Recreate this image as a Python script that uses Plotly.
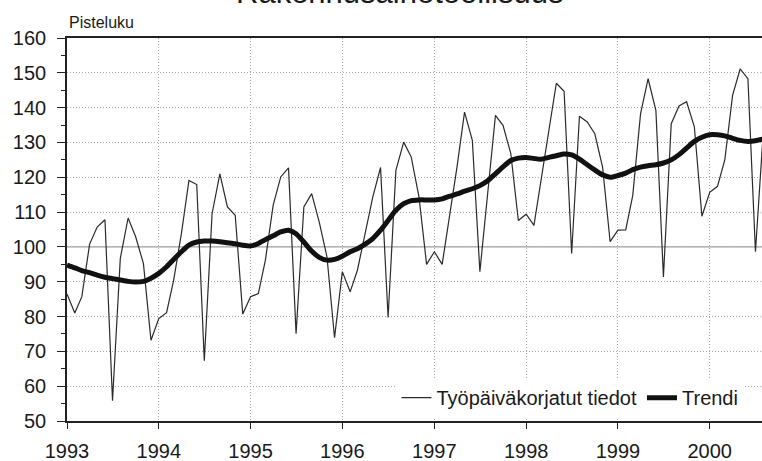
import plotly.graph_objects as go
import pandas as pd

# Kuukausittaiset pisteluvut 1/1993 - 8/2000
kuukaudet = pd.date_range("1993-01-01", periods=92, freq="MS")

tyopaivakorjatut = [
    86.5, 81.0, 85.7, 100.8, 105.7, 107.8, 55.8, 96.7, 108.3, 102.9, 95.2, 73.2,      # 1993
    79.4, 81.1, 90.4, 103.8, 119.1, 117.9, 67.3, 109.6, 121.0, 111.5, 109.1, 80.7,    # 1994
    85.7, 86.6, 96.2, 112.0, 120.1, 122.7, 75.1, 111.5, 115.3, 107.2, 97.1, 73.9,     # 1995
    92.9, 87.1, 93.3, 103.8, 114.3, 122.8, 79.7, 122.0, 130.1, 125.8, 114.3, 95.0,    # 1996
    98.6, 95.0, 107.6, 122.9, 138.7, 130.6, 92.9, 115.0, 137.8, 134.9, 126.8, 107.6,  # 1997
    109.4, 106.2, 119.1, 132.5, 147.0, 144.7, 98.1, 137.5, 135.9, 132.5, 122.9, 101.5,  # 1998
    104.8, 104.9, 114.8, 138.2, 148.3, 139.2, 91.4, 135.4, 140.5, 141.7, 134.5, 108.8,  # 1999
    115.7, 117.4, 125.0, 143.5, 151.1, 148.3, 98.6, 133.0,                            # 2000
]

trendi = [
    94.8, 94.0, 93.2, 92.6, 91.9, 91.3, 90.9, 90.5, 90.1, 89.9, 90.1, 91.0,
    92.4, 94.3, 96.4, 98.6, 100.5, 101.4, 101.7, 101.7, 101.5, 101.2, 100.9, 100.5,
    100.3, 101.0, 102.1, 103.2, 104.3, 104.8, 103.8, 101.4, 98.8, 97.0, 96.2, 96.4,
    97.3, 98.6, 99.5, 100.8, 102.4, 104.8, 107.6, 110.5, 112.4, 113.3, 113.5, 113.5,
    113.5, 113.8, 114.5, 115.2, 116.0, 116.7, 117.6, 119.0, 121.0, 123.0, 124.8, 125.5,
    125.7, 125.4, 125.2, 125.7, 126.2, 126.7, 126.4, 125.2, 123.6, 122.1, 120.7, 120.0,
    120.5, 121.2, 122.2, 122.9, 123.3, 123.6, 124.1, 125.0, 126.5, 128.4, 130.3, 131.5,
    132.2, 132.2, 131.9, 131.2, 130.6, 130.3, 130.5, 131.0,
]

FONT = "Liberation Sans, Arial, Helvetica, sans-serif"
GRID = '#a8a8a8'

fig = go.Figure()

fig.add_trace(go.Scatter(
    x=kuukaudet,
    y=tyopaivakorjatut,
    mode='lines',
    name='Työpäiväkorjatut tiedot',
    line=dict(color='#2b2b2b', width=1.2)
))

fig.add_trace(go.Scatter(
    x=kuukaudet,
    y=trendi,
    mode='lines',
    name='Trendi',
    line=dict(color='#111111', width=5, shape='spline', smoothing=0.6)
))

# Perustason 100 viiva
fig.add_hline(y=100, line=dict(color='#8a8a8a', width=1), layer='below')

fig.update_layout(
    width=762,
    height=461,
    paper_bgcolor='white',
    plot_bgcolor='white',
    margin=dict(l=67, r=0, t=38, b=40, autoexpand=False),
    font=dict(family=FONT, size=20, color='#1a1a1a'),
    showlegend=True,
    legend=dict(
        orientation='h',
        x=0.474,
        xanchor='left',
        y=0.01,
        yanchor='bottom',
        bgcolor='white',
        font=dict(size=20, color='#1a1a1a'),
        itemwidth=30,
        traceorder='normal'
    ),
    xaxis=dict(
        type='date',
        range=['1993-01-01', '2000-07-27'],
        dtick='M12',
        tick0='1993-01-01',
        tickformat='%Y',
        ticks='outside',
        ticklen=6,
        tickcolor='#222',
        ticklabelstandoff=5,
        automargin=False,
        showgrid=True,
        gridcolor=GRID,
        griddash='1px,2px',
        gridwidth=1,
        showline=True,
        linecolor='#222',
        linewidth=1.6,
        mirror=True,
        zeroline=False
    ),
    yaxis=dict(
        range=[50, 160],
        dtick=10,
        ticks='outside',
        ticklen=8,
        tickcolor='#222',
        ticklabelstandoff=7,
        automargin=False,
        minor=dict(dtick=5, ticks='outside', ticklen=4, tickcolor='#222', showgrid=False),
        showgrid=True,
        gridcolor=GRID,
        griddash='1px,2px',
        gridwidth=1,
        showline=True,
        linecolor='#222',
        linewidth=1.6,
        zeroline=False
    ),
    annotations=[
        dict(
            text='Rakennusaineteollisuus',
            xref='paper', yref='paper',
            x=0.479, y=1.068,
            xanchor='center', yanchor='bottom',
            showarrow=False,
            font=dict(size=31, color='#1a1a1a')
        ),
        dict(
            text='Pisteluku',
            xref='paper', yref='paper',
            x=0.0, y=1.013,
            xanchor='left', yanchor='bottom',
            showarrow=False,
            font=dict(size=16, color='#1a1a1a')
        )
    ]
)

# poistetaan sivun oletusreunus, jotta kuva alkaa vasemmasta yläkulmasta
fig.write_html(
    "out.html",
    config={'displayModeBar': False},
    post_script="document.body.style.margin='0';document.body.style.overflow='hidden';"
)
